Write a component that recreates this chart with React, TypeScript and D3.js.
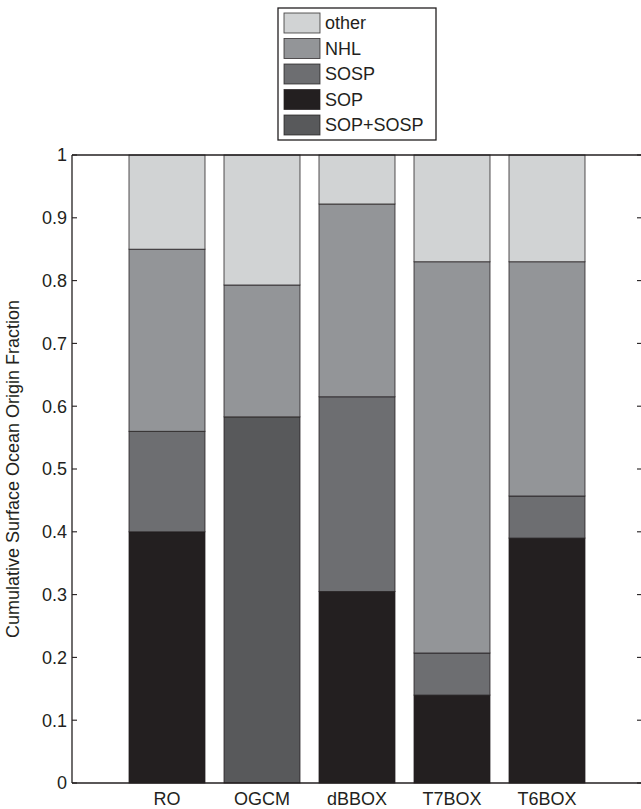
import React from 'react';
import * as d3 from 'd3';

// categories and stacked segment sizes
const categories = ['RO', 'OGCM', 'dBBOX', 'T7BOX', 'T6BOX'];
const sop = [0.4, 0, 0.305, 0.14, 0.39];
const sosp = [0.16, 0, 0.31, 0.067, 0.067];
const sopSosp = [0, 0.583, 0, 0, 0];
const nhl = [0.29, 0.21, 0.307, 0.623, 0.373];
const other = [0.15, 0.207, 0.078, 0.17, 0.17];

const yTicks = [0, 0.1, 0.2, 0.3, 0.4, 0.5, 0.6, 0.7, 0.8, 0.9, 1];
const legendOrder = ['other', 'NHL', 'SOSP', 'SOP', 'SOP+SOSP'];

const colors: Record<string, string> = {
  other: '#d1d3d4',
  NHL: '#939598',
  SOSP: '#6d6e71',
  SOP: '#231f20',
  'SOP+SOSP': '#58595b',
};

const App = () => {
  const width = 641;
  const height = 809;
  const font = "'Liberation Sans', Arial, Helvetica, sans-serif";
  const ink = '#231f20';

  const x = d3.scaleLinear().domain([0, 6]).range([72, 642]);
  const y = d3.scaleLinear().domain([0, 1]).range([783, 155]);
  const barW = x(0.8) - x(0);

  // stack order bottom -> top
  const rows = categories.map((c, i) => ({
    cat: c,
    SOP: sop[i],
    SOSP: sosp[i],
    'SOP+SOSP': sopSosp[i],
    NHL: nhl[i],
    other: other[i],
  }));
  const keys = ['SOP', 'SOSP', 'SOP+SOSP', 'NHL', 'other'];
  const stacked = d3.stack<any>().keys(keys)(rows);

  return (
    <svg
      width={width}
      height={height}
      style={{ position: 'absolute', left: 0, top: 0, background: '#fff' }}
      fontFamily={font}
    >
      {/* bars */}
      {stacked.map((layer) => (
        <g key={layer.key} fill={colors[layer.key]}>
          {layer.map((d, i) =>
            d[1] - d[0] > 0 ? (
              <rect
                key={i}
                x={x(i + 1) - barW / 2}
                y={y(d[1])}
                width={barW}
                height={y(d[0]) - y(d[1])}
                stroke={ink}
                strokeWidth={0.9}
                strokeOpacity={0.85}
              />
            ) : null
          )}
        </g>
      ))}

      {/* axes frame */}
      <g stroke={ink} strokeWidth={1.3} fill="none">
        <line x1={x(0)} x2={x(0)} y1={y(0)} y2={y(1)} />
        <line x1={x(0)} x2={x(6)} y1={y(0)} y2={y(0)} />
        <line x1={x(0)} x2={x(6)} y1={y(1)} y2={y(1)} />
        <line x1={x(6)} x2={x(6)} y1={y(0)} y2={y(1)} />
      </g>

      {/* y ticks both sides */}
      {yTicks.map((t) => (
        <g key={t}>
          <line x1={x(0)} x2={x(0) + 5} y1={y(t)} y2={y(t)} stroke={ink} strokeWidth={1.1} />
          <line x1={x(6) - 5} x2={x(6)} y1={y(t)} y2={y(t)} stroke={ink} strokeWidth={1.1} />
          <text
            x={x(0) - 5}
            y={y(t)}
            dy="0.35em"
            textAnchor="end"
            fontSize={18}
            fill={ink}
          >
            {d3.format('~g')(t)}
          </text>
        </g>
      ))}

      {/* x labels */}
      {categories.map((c, i) => (
        <text key={c} x={x(i + 1)} y={805} textAnchor="middle" fontSize={18} fill={ink}>
          {c}
        </text>
      ))}

      {/* y title */}
      <text
        transform={`translate(19,${(y(0) + y(1)) / 2}) rotate(-90)`}
        textAnchor="middle"
        fontSize={18}
        fill={ink}
      >
        Cumulative Surface Ocean Origin Fraction
      </text>

      {/* legend */}
      <g>
        <rect x={278} y={8} width={158} height={132} fill="#fff" stroke={ink} strokeWidth={1.3} />
        {legendOrder.map((k, i) => (
          <g key={k} transform={`translate(284,${13 + i * 25.5})`}>
            <rect width={36} height={20} fill={colors[k]} stroke={ink} strokeWidth={0.9} strokeOpacity={0.8} />
            <text x={41} y={10} dy="0.36em" fontSize={18} fill={ink}>
              {k}
            </text>
          </g>
        ))}
      </g>
    </svg>
  );
};

export default App;
